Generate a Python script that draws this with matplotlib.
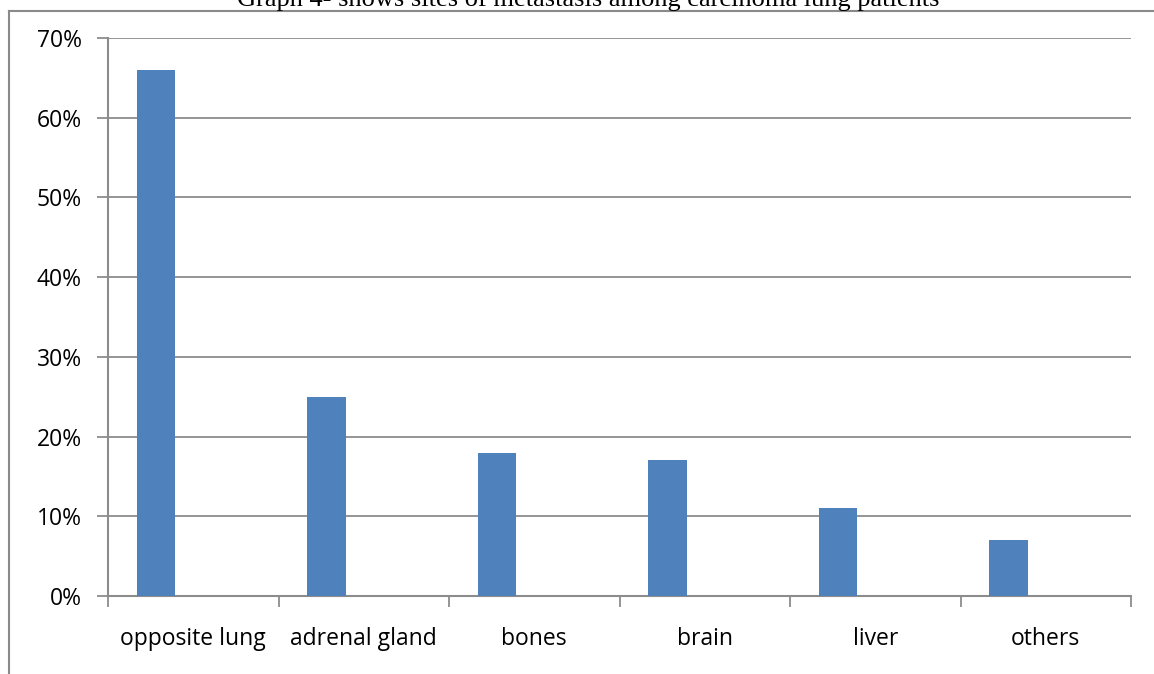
import matplotlib
matplotlib.use("Agg")
import matplotlib.pyplot as plt
from matplotlib.lines import Line2D
from matplotlib.ticker import FuncFormatter, MultipleLocator

# Sites of metastasis (% of carcinoma lung patients)
sites = ["opposite lung", "adrenal gland", "bones", "brain", "liver", "others"]
percent = [66, 25, 18, 17, 11, 7]
title = "Graph 4- shows sites of metastasis among carcinoma lung patients"

W, H = 1154, 674
fig = plt.figure(figsize=(W / 100, H / 100), dpi=100)

# plot area in pixel coordinates
x0, x1, y_top, y_bot = 108, 1131, 38, 596
ax = fig.add_axes([x0 / W, (H - y_bot) / H, (x1 - x0) / W, (y_bot - y_top) / H])

grey = "#8c8c8c"
bar_color = "#4f81bd"
label_font = ["Open Sans", "DejaVu Sans"]
label_size = 16.5

n = len(sites)
idx = list(range(n))
bar_w = 0.223
bar_left = [i - 0.5 + 0.17 for i in idx]
ax.bar(bar_left, percent, width=bar_w, align="edge", color=bar_color, zorder=3)

ax.set_xlim(-0.5, n - 0.5)
ax.set_ylim(0, 70)
ax.yaxis.set_major_locator(MultipleLocator(10))
ax.yaxis.set_major_formatter(FuncFormatter(lambda v, p: f"{int(round(v))}%"))
ax.grid(axis="y", color=grey, linewidth=1.3, zorder=0)

# category boundaries carry the x ticks, labels sit at category centres
ax.set_xticks([i - 0.5 for i in range(n + 1)])
ax.set_xticklabels([])
ax.set_xticks(idx, minor=True)
ax.set_xticklabels(sites, minor=True, fontsize=label_size, family=label_font)
ax.tick_params(axis="x", which="minor", length=0, pad=22)
ax.tick_params(axis="x", which="major", length=8, width=1.3, color=grey, direction="out")
ax.tick_params(axis="y", length=8, width=1.3, color=grey, direction="out", pad=11)
for t in ax.get_yticklabels():
    t.set_fontsize(label_size)
    t.set_family(label_font)

for side in ("top", "right"):
    ax.spines[side].set_visible(False)
for side in ("left", "bottom"):
    ax.spines[side].set_color(grey)
    ax.spines[side].set_linewidth(1.5)

# outer chart border (left and top edges)
fx = 8.5 / W
fy = (H - 11) / H
fig.add_artist(Line2D([fx, fx], [0, fy], transform=fig.transFigure, color="#8a8a8a", lw=1.5))
fig.add_artist(Line2D([fx, 1.0], [fy, fy], transform=fig.transFigure, color="#8a8a8a", lw=1.5))

fig.text(0.51, (H - 6) / H, title, ha="center", va="baseline", fontsize=19,
         family="Liberation Serif", color="#000000")

fig.savefig("out.png", dpi=100)
